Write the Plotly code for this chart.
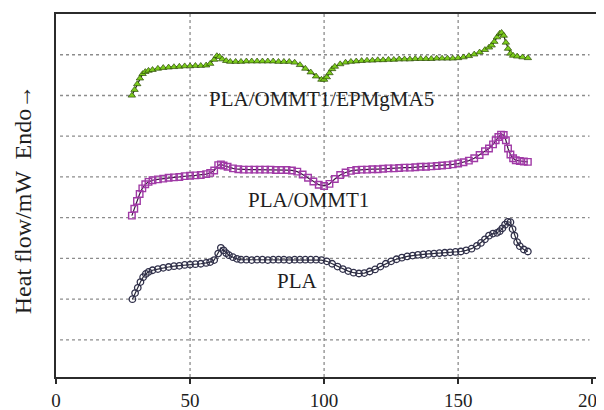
import plotly.graph_objects as go

# ---------------- data ----------------
T_PLA = [28.5, 29.5, 30.5, 31.5, 32.5, 33.5, 34.5, 36, 38, 40,
         42, 44, 46, 48, 50, 52, 54, 56, 57.5, 59,
         60.5, 61.5, 62.5, 63.5, 64.5, 66, 67.5, 69, 71, 73,
         75, 77, 79, 81, 83, 85, 87, 89, 91, 93,
         95, 97, 99, 101, 103, 105, 107, 109, 111, 113,
         115, 117, 119, 121, 123, 125, 127, 129, 131, 133,
         135, 137, 139, 141, 143, 145, 147, 149, 151, 153,
         155, 157, 158.5, 160, 161.5, 163, 164.5, 165.5, 166.5, 167.5,
         168.5, 169.5, 170.3, 171, 172, 173, 174.5, 176]
HF_PLA = [2.00, 2.15, 2.28, 2.42, 2.54, 2.62, 2.67, 2.71, 2.74, 2.77,
          2.79, 2.81, 2.82, 2.84, 2.85, 2.86, 2.87, 2.89, 2.91, 2.96,
          3.12, 3.26, 3.20, 3.13, 3.08, 3.03, 2.99, 2.97, 2.97, 2.96,
          2.97, 2.97, 2.96, 2.97, 2.97, 2.97, 2.96, 2.97, 2.97, 2.97,
          2.97, 2.97, 2.96, 2.93, 2.87, 2.80, 2.74, 2.69, 2.65, 2.63,
          2.64, 2.68, 2.73, 2.80, 2.87, 2.93, 2.98, 3.02, 3.05, 3.07,
          3.09, 3.10, 3.11, 3.12, 3.13, 3.14, 3.15, 3.16, 3.17, 3.20,
          3.24, 3.31, 3.38, 3.47, 3.56, 3.61, 3.63, 3.67, 3.74, 3.83,
          3.90, 3.89, 3.72, 3.56, 3.40, 3.30, 3.22, 3.17]

T_OM = [28.3, 29.2, 30.2, 31.2, 32.2, 33.3, 34.5, 36, 38, 40,
        42, 44, 46, 48, 50, 52, 54, 56, 57.5, 59,
        60.5, 61.5, 62.5, 64, 66, 68, 70, 72, 74, 76,
        78, 80, 82, 84, 86, 88, 90, 92, 94, 96,
        98, 100, 102, 104, 106, 108, 110, 112, 114, 116,
        118, 120, 122, 124, 126, 128, 130, 132, 134, 136,
        138, 140, 142, 144, 146, 148, 150, 152, 154, 156,
        158, 160, 161.5, 163, 164, 165, 166, 167, 167.8, 168.6,
        169.5, 170.5, 171.5, 173, 174.5, 176]
HF_OM = [4.05, 4.22, 4.41, 4.58, 4.72, 4.82, 4.88, 4.92, 4.94, 4.96,
         4.98, 4.99, 5.00, 5.02, 5.03, 5.04, 5.05, 5.07, 5.10, 5.16,
         5.29, 5.31, 5.28, 5.25, 5.21, 5.19, 5.18, 5.18, 5.18, 5.18,
         5.18, 5.18, 5.17, 5.17, 5.17, 5.16, 5.13, 5.06, 4.98, 4.89,
         4.81, 4.78, 4.83, 4.95, 5.05, 5.11, 5.15, 5.17, 5.18, 5.18,
         5.19, 5.19, 5.20, 5.21, 5.21, 5.22, 5.23, 5.23, 5.24, 5.25,
         5.25, 5.26, 5.27, 5.28, 5.29, 5.31, 5.33, 5.36, 5.40, 5.46,
         5.54, 5.63, 5.70, 5.80, 5.90, 5.98, 6.04, 6.03, 5.90, 5.70,
         5.55, 5.46, 5.41, 5.39, 5.38, 5.37]

T_EP = [28.3, 29.3, 30.3, 31.3, 32.3, 33.3, 34.5, 36, 38, 40,
        42, 44, 46, 48, 50, 52, 54, 56, 57.5, 59,
        60, 61, 62, 63.5, 65, 67, 69, 71, 73, 75,
        77, 79, 81, 83, 85, 87, 89, 91, 93, 95,
        97, 99, 100, 101, 102, 103, 104, 106, 108, 110,
        112, 114, 116, 118, 120, 122, 124, 126, 128, 130,
        132, 134, 136, 138, 140, 142, 144, 146, 148, 150,
        152, 154, 156, 158, 160, 161.5, 162.5, 163.5, 164.5, 165.5,
        166.2, 167, 167.8, 168.6, 169.5, 170.5, 172, 174, 176]
HF_EP = [7.00, 7.14, 7.28, 7.42, 7.53, 7.58, 7.61, 7.63, 7.66, 7.68,
         7.69, 7.70, 7.71, 7.72, 7.72, 7.73, 7.73, 7.74, 7.78, 7.88,
         7.97, 7.95, 7.89, 7.85, 7.83, 7.83, 7.83, 7.84, 7.84, 7.84,
         7.84, 7.84, 7.84, 7.83, 7.83, 7.83, 7.81, 7.75, 7.66, 7.57,
         7.47, 7.39, 7.39, 7.45, 7.55, 7.65, 7.71, 7.77, 7.81, 7.83,
         7.84, 7.85, 7.86, 7.86, 7.87, 7.87, 7.88, 7.88, 7.89, 7.89,
         7.89, 7.90, 7.90, 7.90, 7.90, 7.91, 7.91, 7.91, 7.91, 7.92,
         7.94, 7.97, 8.01, 8.06, 8.12, 8.18, 8.23, 8.32, 8.43, 8.52,
         8.54, 8.47, 8.30, 8.15, 8.03, 7.98, 7.96, 7.94, 7.92]

LABELS = ["PLA/OMMT1/EPMgMA5", "PLA/OMMT1", "PLA"]
LABEL_X = [98.9, 94.1, 90.0]
LABEL_Y = [6.92, 4.44, 2.45]

X_TICKS = [0, 50, 100, 150, 200]
GRID_X = [50, 100, 150]
GRID_Y = [1, 2, 3, 4, 5, 6, 7, 8]

Y_TITLE = "Heat flow/mW  Endo\u2192"

FONT = "Liberation Serif"
AXIS_COLOR = "#2b2b2b"
GRID_COLOR = "#8c8c8c"

# ---------------- figure ----------------
fig = go.Figure()

fig.add_trace(go.Scatter(
    x=T_EP, y=HF_EP, mode="lines+markers", name=LABELS[0],
    line=dict(color="#1e2a10", width=1.2),
    marker=dict(symbol="triangle-up", size=6.5, color="#7ccd1c",
                line=dict(color="#2d4a08", width=0.7)),
))
fig.add_trace(go.Scatter(
    x=T_OM, y=HF_OM, mode="lines+markers", name=LABELS[1],
    line=dict(color="#3a1540", width=1.2),
    marker=dict(symbol="square-open", size=6.5, color="#a03aa6",
                line=dict(width=1.4)),
))
fig.add_trace(go.Scatter(
    x=T_PLA, y=HF_PLA, mode="lines+markers", name=LABELS[2],
    line=dict(color="#2a2a3a", width=1.2),
    marker=dict(symbol="circle-open", size=6.5, color="#30304a",
                line=dict(width=1.3)),
))

shapes = []
for gy in GRID_Y:
    shapes.append(dict(type="line", xref="x", yref="y", x0=1.5, x1=199,
                       y0=gy, y1=gy, layer="below",
                       line=dict(color=GRID_COLOR, width=1.3, dash="dot")))
for gx in GRID_X:
    shapes.append(dict(type="line", xref="x", yref="paper", x0=gx, x1=gx,
                       y0=0, y1=1, layer="below",
                       line=dict(color=GRID_COLOR, width=1.3, dash="dot")))

annotations = []
for txt, lx, ly in zip(LABELS, LABEL_X, LABEL_Y):
    annotations.append(dict(x=lx, y=ly, xref="x", yref="y", text=txt,
                            showarrow=False, xanchor="center", yanchor="middle",
                            font=dict(family=FONT, size=21, color="#1e1e1e")))
annotations.append(dict(x=-0.06, y=0.49, xref="paper", yref="paper",
                        text=Y_TITLE, textangle=-90, showarrow=False,
                        xanchor="center", yanchor="middle",
                        font=dict(family=FONT, size=24, color="#1e1e1e")))

# the page body adds an 8px offset; size the figure so the plot lands where
# the reference has it (plot area 56..604 x 14..377 in the window)
fig.update_layout(
    width=596, height=402,
    margin=dict(l=48, r=0, t=6, b=33),
    paper_bgcolor="white", plot_bgcolor="white",
    showlegend=False,
    shapes=shapes,
    annotations=annotations,
    xaxis=dict(range=[0, 204.4], tickvals=X_TICKS,
               ticktext=[str(v) for v in X_TICKS], automargin=False,
               ticklabeloverflow="allow",
               showgrid=False, zeroline=False,
               showline=True, linecolor=AXIS_COLOR, linewidth=2, mirror=True,
               ticks="outside", ticklen=5, tickwidth=2, tickcolor=AXIS_COLOR,
               tickfont=dict(family=FONT, size=19, color="#1e1e1e")),
    yaxis=dict(range=[0.09, 9.0], showgrid=False, zeroline=False,
               showticklabels=False, ticks="", automargin=False,
               showline=True, linecolor=AXIS_COLOR, linewidth=2, mirror=False),
)

fig.write_html("out.html")
